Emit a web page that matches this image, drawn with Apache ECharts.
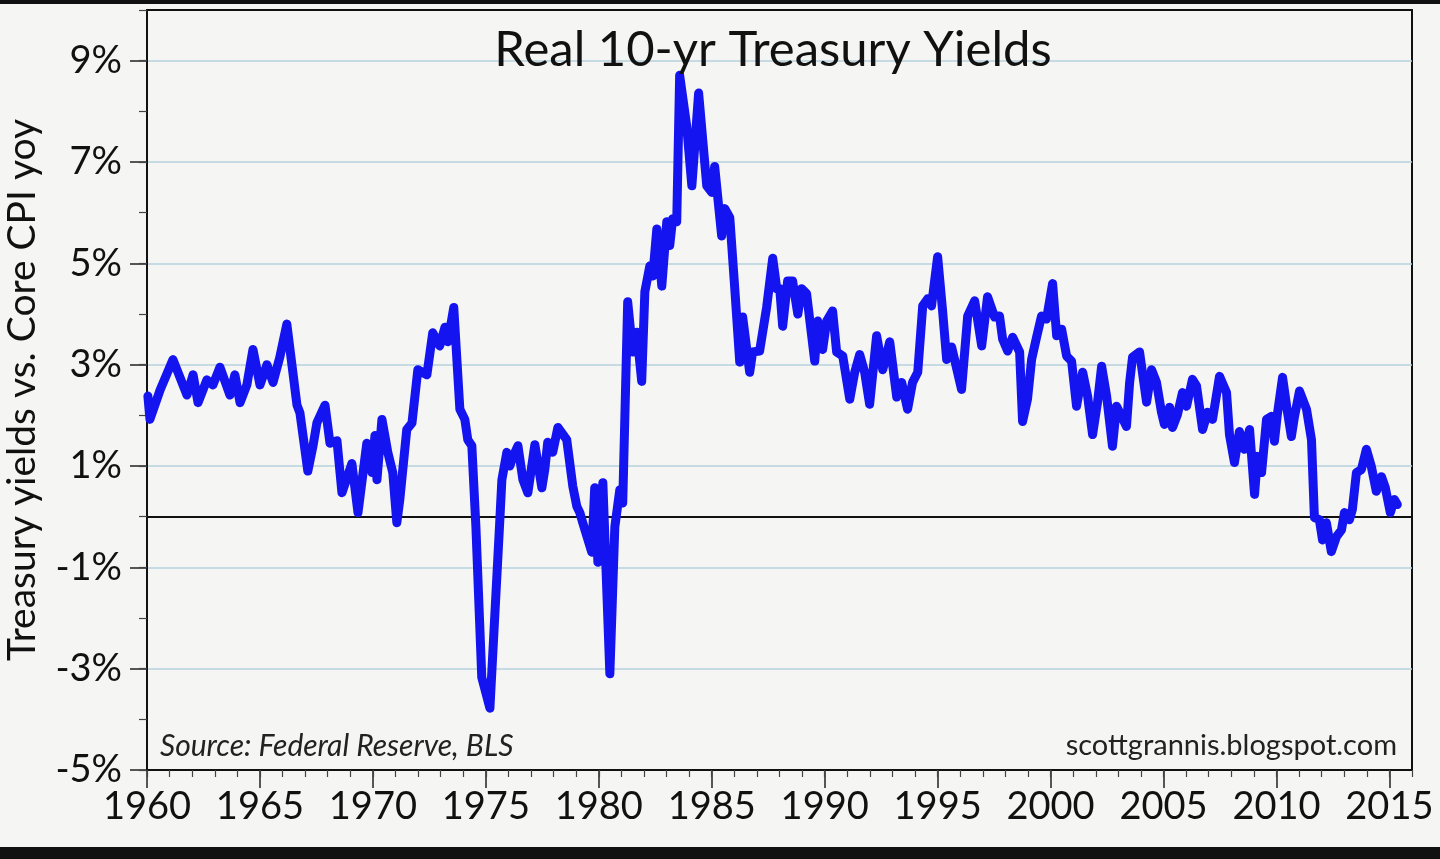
<!DOCTYPE html>
<html>
<head>
<meta charset="utf-8">
<title>Real 10-yr Treasury Yields</title>
<script src="https://cdn.jsdelivr.net/npm/echarts@6/dist/echarts.min.js"></script>
<style>
    html, body {margin: 0; padding: 0; background: #f5f5f3;}
    #chart {width: 1440px; height: 859px;}
</style>
</head>
<body>
<div id="chart"></div>
<script>
// decimal years of the points
var years = [
    1960.04, 1960.13, 1960.58, 1961.15, 1961.77, 1962.04, 1962.26, 1962.65, 1962.92, 1963.23,
    1963.67, 1963.89, 1964.12, 1964.42, 1964.69, 1965.0, 1965.31, 1965.58, 1965.88, 1966.19,
    1966.64, 1966.77, 1967.12, 1967.35, 1967.52, 1967.88, 1968.1, 1968.41, 1968.63, 1969.07,
    1969.34, 1969.73, 1969.96, 1970.09, 1970.18, 1970.4, 1970.66, 1970.88, 1971.06, 1971.19,
    1971.5, 1971.73, 1971.99, 1972.39, 1972.65, 1972.96, 1973.19, 1973.32, 1973.58, 1973.85,
    1974.07, 1974.2, 1974.38, 1974.56, 1974.82, 1975.18, 1975.62, 1975.71, 1975.93, 1976.06,
    1976.19, 1976.42, 1976.64, 1976.86, 1977.17, 1977.48, 1977.61, 1977.74, 1977.96, 1978.19,
    1978.58, 1978.85, 1979.03, 1979.16, 1979.29, 1979.69, 1979.82, 1979.96, 1980.18, 1980.49,
    1980.71, 1980.93, 1981.06, 1981.28, 1981.5, 1981.68, 1981.9, 1982.04, 1982.26, 1982.39,
    1982.57, 1982.79, 1983.01, 1983.14, 1983.27, 1983.45, 1983.58, 1983.89, 1984.12, 1984.42,
    1984.78, 1985.0, 1985.13, 1985.44, 1985.58, 1985.8, 1986.02, 1986.24, 1986.37, 1986.68,
    1986.81, 1987.12, 1987.43, 1987.7, 1987.88, 1988.01, 1988.14, 1988.36, 1988.58, 1988.81,
    1988.98, 1989.2, 1989.56, 1989.69, 1989.91, 1990.09, 1990.35, 1990.53, 1990.8, 1991.11,
    1991.33, 1991.55, 1991.77, 1991.99, 1992.3, 1992.57, 1992.88, 1993.19, 1993.41, 1993.67,
    1993.89, 1994.12, 1994.34, 1994.56, 1994.73, 1995.0, 1995.22, 1995.4, 1995.62, 1995.75,
    1996.06, 1996.33, 1996.64, 1996.95, 1997.21, 1997.52, 1997.74, 1997.88, 1998.1, 1998.32,
    1998.63, 1998.76, 1998.98, 1999.16, 1999.38, 1999.6, 1999.82, 2000.09, 2000.27, 2000.49,
    2000.71, 2000.93, 2001.15, 2001.42, 2001.64, 2001.86, 2002.08, 2002.26, 2002.48, 2002.74,
    2002.92, 2003.14, 2003.36, 2003.5, 2003.63, 2003.94, 2004.25, 2004.47, 2004.69, 2004.91,
    2005.04, 2005.27, 2005.4, 2005.62, 2005.84, 2006.02, 2006.28, 2006.46, 2006.73, 2006.95,
    2007.17, 2007.48, 2007.79, 2007.92, 2008.14, 2008.36, 2008.58, 2008.81, 2009.03, 2009.16,
    2009.34, 2009.56, 2009.78, 2009.91, 2010.04, 2010.27, 2010.49, 2010.66, 2010.8, 2011.02,
    2011.33, 2011.55, 2011.68, 2011.9, 2012.04, 2012.21, 2012.43, 2012.65, 2012.88, 2013.01,
    2013.23, 2013.36, 2013.54, 2013.76, 2013.98, 2014.2, 2014.42, 2014.65, 2014.82, 2015.04,
    2015.22, 2015.35
];
// real yield, % (10-yr treasury minus core CPI yoy)
var realYield = [
    2.38, 1.92, 2.5, 3.1, 2.4, 2.8, 2.25, 2.7, 2.6, 2.95,
    2.4, 2.8, 2.25, 2.6, 3.3, 2.6, 3.0, 2.65, 3.15, 3.8,
    2.2, 2.05, 0.9, 1.4, 1.85, 2.2, 1.45, 1.5, 0.47, 1.05,
    0.08, 1.45, 0.87, 1.6, 0.73, 1.92, 1.27, 0.87, -0.12, 0.33,
    1.72, 1.85, 2.9, 2.8, 3.63, 3.37, 3.74, 3.45, 4.13, 2.12,
    1.92, 1.52, 1.4, -0.2, -3.17, -3.78, -0.06, 0.73, 1.27, 1.0,
    1.17, 1.4, 0.73, 0.47, 1.42, 0.57, 0.93, 1.47, 1.27, 1.76,
    1.52, 0.6, 0.2, 0.08, -0.12, -0.7, 0.57, -0.9, 0.67, -3.1,
    -0.2, 0.53, 0.27, 4.24, 3.25, 3.64, 2.67, 4.44, 4.95, 4.75,
    5.68, 4.55, 5.82, 5.35, 5.88, 5.82, 8.71, 7.72, 6.53, 8.36,
    6.53, 6.4, 6.91, 5.54, 6.08, 5.9, 4.5, 3.05, 3.94, 2.85,
    3.25, 3.27, 4.13, 5.1, 4.5, 4.5, 3.76, 4.65, 4.65, 4.0,
    4.5, 4.4, 3.07, 3.86, 3.3, 3.86, 4.06, 3.25, 3.17, 2.32,
    2.85, 3.2, 2.85, 2.22, 3.57, 2.9, 3.45, 2.36, 2.65, 2.12,
    2.65, 2.85, 4.16, 4.3, 4.16, 5.13, 4.06, 3.1, 3.35, 3.1,
    2.51, 3.96, 4.26, 3.37, 4.34, 3.94, 3.96, 3.5, 3.27, 3.54,
    3.25, 1.88, 2.32, 3.1, 3.54, 3.96, 3.9, 4.6, 3.57, 3.7,
    3.17, 3.07, 2.18, 2.85, 2.38, 1.62, 2.26, 2.97, 2.38, 1.39,
    2.18, 1.98, 1.78, 2.65, 3.15, 3.25, 2.26, 2.9, 2.65, 2.06,
    1.82, 2.16, 1.76, 2.02, 2.45, 2.18, 2.71, 2.58, 1.72, 2.06,
    1.92, 2.77, 2.45, 1.62, 1.07, 1.68, 1.33, 1.72, 0.44, 1.19,
    0.87, 1.92, 1.98, 1.49, 2.02, 2.75, 2.06, 1.58, 1.98, 2.48,
    2.12, 1.52, -0.02, -0.06, -0.46, -0.12, -0.69, -0.4, -0.26, 0.08,
    -0.06, 0.14, 0.87, 0.93, 1.33, 0.99, 0.5, 0.79, 0.57, 0.08,
    0.34, 0.24
];
var yearTicks = [1960, 1965, 1970, 1975, 1980, 1985, 1990, 1995, 2000, 2005, 2010, 2015];
var pctTicks = [-5, -3, -1, 1, 3, 5, 7, 9];

var fontName = 'Lato';
var myChart = echarts.init(document.getElementById('chart'));

var seriesData = years.map(function (t, i) {
    return [t, realYield[i]];
});

myChart.setOption({
    backgroundColor: '#f5f5f3',
    animation: false,
    grid: {
        left: 147,
        right: 28,
        top: 10,
        bottom: 89,
        outerBoundsMode: 'none',
        containLabel: false,
        show: true,
        borderColor: '#111',
        borderWidth: 2,
        backgroundColor: 'transparent'
    },
    graphic: [
        // black strips at the top and bottom of the screenshot
        {type: 'rect', left: 0, top: 0, shape: {width: 1440, height: 4}, style: {fill: '#111'}, z: 100},
        {type: 'rect', left: 0, top: 847, shape: {width: 1440, height: 12}, style: {fill: '#111'}, z: 100},
        {
            type: 'text', x: 773, y: 50, z: 100,
            style: {
                text: 'Real 10-yr Treasury Yields', fill: '#111',
                font: '49px ' + fontName, align: 'center', verticalAlign: 'middle'
            }
        },
        {
            type: 'text', x: 160, y: 746, z: 100,
            style: {
                text: 'Source: Federal Reserve, BLS', fill: '#222',
                font: 'italic 30px ' + fontName, align: 'left', verticalAlign: 'middle'
            }
        },
        {
            type: 'text', x: 1397, y: 746, z: 100,
            style: {
                text: 'scottgrannis.blogspot.com', fill: '#222',
                font: '29px ' + fontName, align: 'right', verticalAlign: 'middle'
            }
        }
    ],
    xAxis: [{
        type: 'value',
        min: 1960,
        max: 2016,
        interval: 5,
        position: 'bottom',
        axisLine: {show: true, onZero: false, lineStyle: {color: '#111', width: 2}},
        axisTick: {show: true, customValues: yearTicks, length: 18, lineStyle: {color: '#222', width: 1.5}},
        axisLabel: {
            customValues: yearTicks,
            color: '#111',
            fontFamily: fontName,
            fontSize: 38,
            margin: 18,
            formatter: function (v) {
                return v % 5 === 0 ? String(v) : '';
            }
        },
        splitLine: {show: false}
    }, {
        type: 'value',
        min: 1960,
        max: 2016,
        interval: 1,
        position: 'bottom',
        axisLine: {show: false, onZero: false},
        axisTick: {show: true, length: 7, lineStyle: {color: '#444', width: 1.2}},
        axisLabel: {show: false},
        splitLine: {show: false}
    }],
    yAxis: [{
        type: 'value',
        min: -5,
        max: 10,
        interval: 2,
        position: 'left',
        name: 'Treasury yields vs. Core CPI yoy',
        nameLocation: 'middle',
        nameRotate: 90,
        nameGap: 105,
        nameTextStyle: {color: '#111', fontFamily: fontName, fontSize: 39, padding: [0, 0, 0, 0]},
        axisLine: {show: true, onZero: false, lineStyle: {color: '#111', width: 2}},
        axisTick: {show: true, customValues: pctTicks, length: 17, lineStyle: {color: '#222', width: 1.5}},
        axisLabel: {
            customValues: pctTicks,
            color: '#111',
            fontFamily: fontName,
            fontSize: 38,
            margin: 25,
            formatter: function (v) {
                return v === 10 ? '' : v + '%';
            }
        },
        splitLine: {show: true, lineStyle: {color: '#b4d0de', width: 1.5}}
    }, {
        type: 'value',
        min: -5,
        max: 10,
        interval: 1,
        position: 'left',
        axisLine: {show: false, onZero: false},
        axisTick: {show: true, length: 8, lineStyle: {color: '#444', width: 1.2}},
        axisLabel: {show: false},
        splitLine: {show: false}
    }],
    series: [{
        name: 'Real 10-yr yield',
        type: 'line',
        xAxisIndex: 0,
        yAxisIndex: 0,
        data: seriesData,
        showSymbol: false,
        smooth: false,
        z: 5,
        lineStyle: {color: '#1414f0', width: 9, join: 'round', cap: 'round'},
        markLine: {
            silent: true,
            symbol: 'none',
            label: {show: false},
            lineStyle: {color: '#111', width: 2, type: 'solid'},
            data: [{yAxis: 0}],
            z: 3
        }
    }]
});
</script>
</body>
</html>
